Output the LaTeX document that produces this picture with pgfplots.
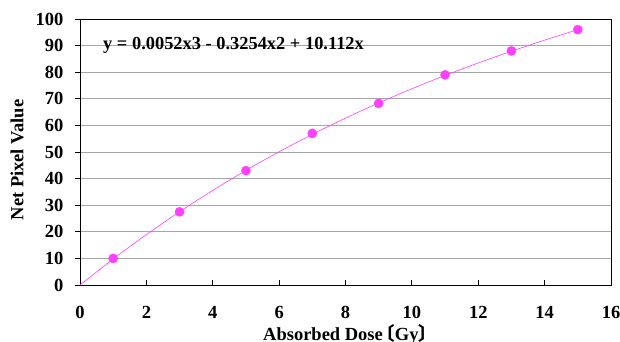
\documentclass[border=0pt]{standalone}
\usepackage{pgfplots}
\pgfplotsset{compat=1.18}
\usepackage{fontspec}
\setmainfont{Liberation Serif}
\newfontfamily\cjk{Noto Sans CJK JP}[RawFeature=+palt]
\definecolor{mag}{RGB}{255,64,255}
\begin{document}
\begin{tikzpicture}
\begin{axis}[
  name=ax,
  scale only axis,
  width=531pt, height=266pt,
  xmin=0, xmax=16, ymin=0, ymax=100,
  xtick={0,2,...,16}, ytick={0,10,...,100},
  axis line style={black, line width=0.8pt},
  ymajorgrids, grid style={gray!70, line width=0.6pt},
  xtick pos=bottom, ytick pos=left,
  xtick align=inside, ytick align=outside,
  major tick length=5pt,
  tick style={black, line width=0.8pt},
  /pgf/number format/assume math mode=true,
  ticklabel style={font=\fontsize{18.5}{21}\selectfont\bfseries},
  xticklabel style={inner sep=1pt, yshift=-20pt},
  yticklabel style={xshift=-8pt},
  xlabel={Absorbed Dose\hspace{0.15em}{\cjk\bfseries 〔}Gy{\cjk\bfseries 〕}},
  ylabel={Net Pixel Value},
  xlabel style={font=\fontsize{18.5}{21}\selectfont\bfseries, inner sep=1pt, at={(axis description cs:0.5,-0.209)}, anchor=base},
  ylabel style={font=\fontsize{18.5}{21}\selectfont\bfseries, at={(axis description cs:-0.1186,0.47)}, anchor=center},
]
\addplot[mag, line width=0.6pt, smooth] coordinates {
(0,0) (1,9.792) (2,18.964) (3,27.548) (4,35.574) (5,43.075) (6,50.081) (7,56.623)
(8,62.733) (9,68.441) (10,73.78) (11,78.780) (12,83.472) (13,87.888) (14,92.058) (15,96.015)};
\addplot[only marks, mark=*, mark size=4.6pt, mark options={fill=mag, draw=mag}] coordinates {
(1,10) (3,27.5) (5,43) (7,57) (9,68.3) (11,79) (13,88) (15,96)};
\node[anchor=west, font=\fontsize{18.4}{21}\selectfont\bfseries, inner sep=0pt] at (axis cs:0.693,90) {y = 0.0052x3 - 0.3254x2 + 10.112x};
\end{axis}
\pgfresetboundingbox
\path ([xshift=-80pt,yshift=-57pt]ax.south west) rectangle ([xshift=9pt,yshift=19pt]ax.north east);
\end{tikzpicture}
\end{document}
